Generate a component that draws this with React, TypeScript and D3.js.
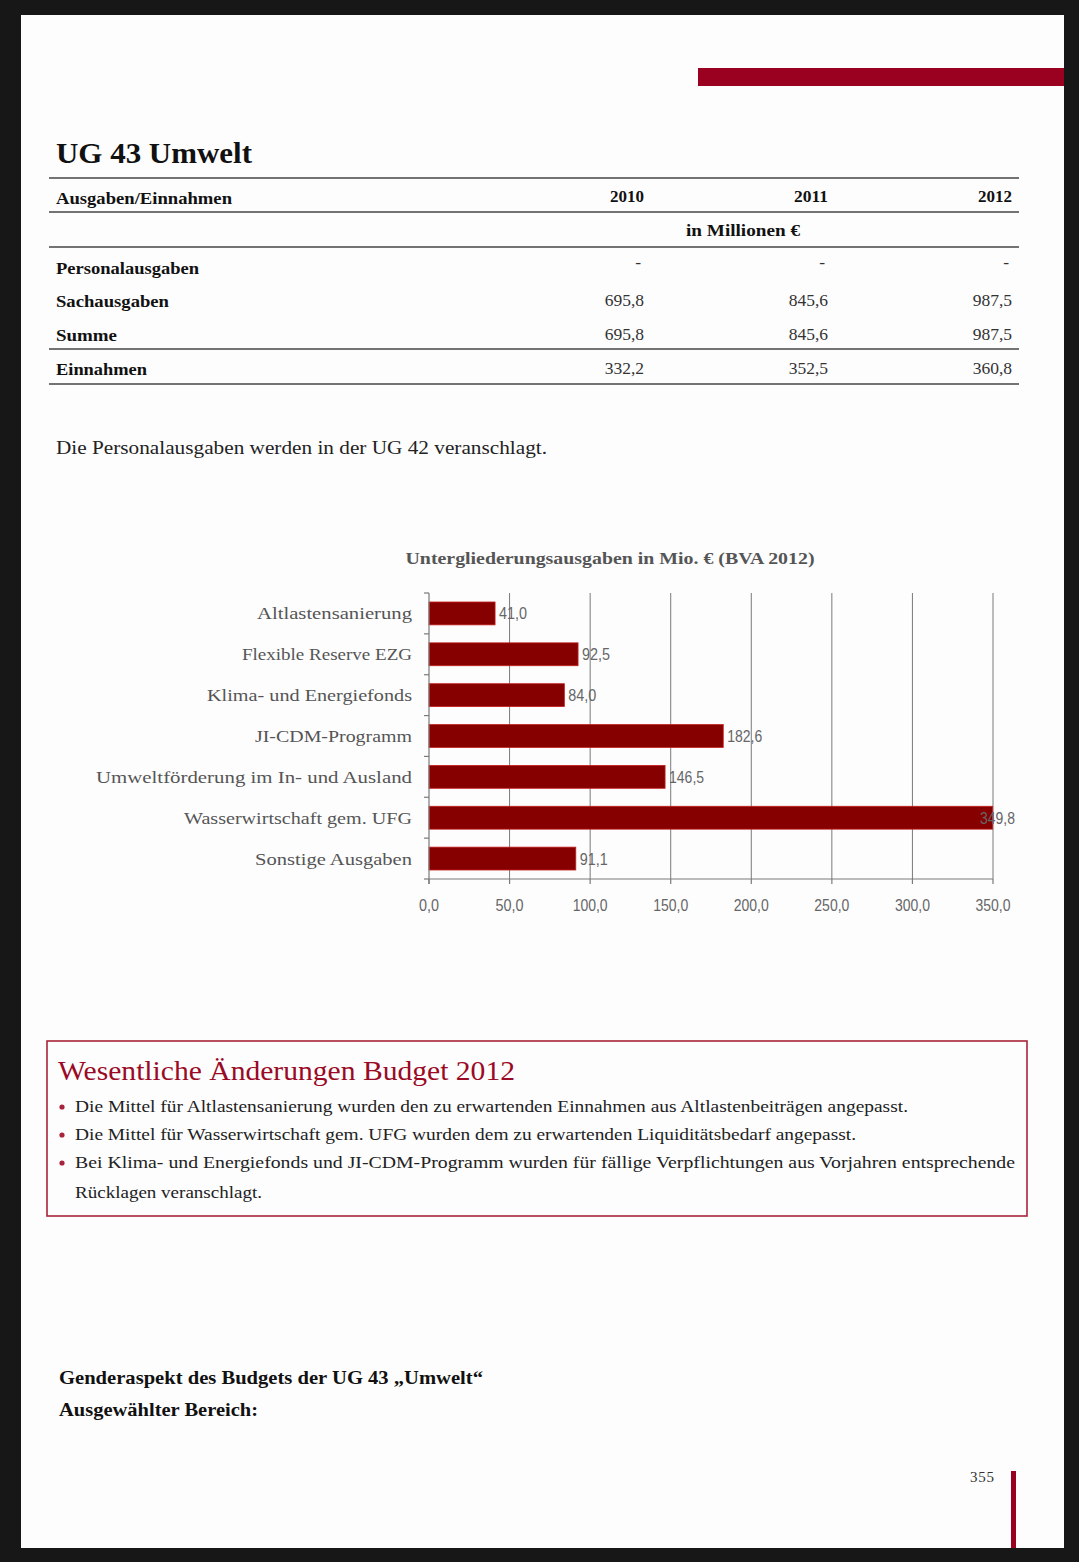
import React from "react";
import * as d3 from "d3";

const categories = [
  "Altlastensanierung",
  "Flexible Reserve EZG",
  "Klima- und Energiefonds",
  "JI-CDM-Programm",
  "Umweltförderung im In- und Ausland",
  "Wasserwirtschaft gem. UFG",
  "Sonstige Ausgaben",
];
const values = [41.0, 92.5, 84.0, 182.6, 146.5, 349.8, 91.1];
const xTicks = [0, 50, 100, 150, 200, 250, 300, 350];

const tableYears = ["2010", "2011", "2012"];
const tableRows = ["Personalausgaben", "Sachausgaben", "Summe", "Einnahmen"];
const tableValues = [
  ["-", "-", "-"],
  ["695,8", "845,6", "987,5"],
  ["695,8", "845,6", "987,5"],
  ["332,2", "352,5", "360,8"],
];

const bullets = [
  "Die Mittel für Altlastensanierung wurden den zu erwartenden Einnahmen aus Altlastenbeiträgen angepasst.",
  "Die Mittel für Wasserwirtschaft gem. UFG  wurden dem zu erwartenden Liquiditätsbedarf angepasst.",
  "Bei Klima- und Energiefonds und JI-CDM-Programm wurden für fällige Verpflichtungen aus Vorjahren entsprechende",
];
const bulletContinuation = "Rücklagen veranschlagt.";

const SERIF = "'Liberation Serif', 'DejaVu Serif', serif";
const SANS = "'Liberation Sans', Arial, sans-serif";
const fmt = (v: number) => d3.format(".1f")(v).replace(".", ",");

export default function App() {
  const W = 1079;
  const H = 1562;
  const x = d3.scaleLinear().domain([0, 350]).range([429, 993]);
  const y = d3
    .scaleBand<string>()
    .domain(categories)
    .range([593, 879])
    .paddingInner(0.44)
    .paddingOuter(0.22);
  const step = y.step();

  const colX = [644, 828, 1012];
  const rowY = [274, 307, 341, 375];
  const rowWidths = [143, 113, 61, 91];
  const catWidths = [155, 170, 205, 157, 316, 228, 157];
  const bulletWidths = [833, 781, 940];
  const bulletY = [1112, 1140, 1168];
  const labelW = (v: number) => (v >= 100 ? 35 : 28);

  return (
    <svg
      width={W}
      height={H}
      style={{ position: "absolute", left: 0, top: 0, display: "block" }}
    >
      <rect x={0} y={0} width={W} height={H} fill="#171717" />
      <rect x={21} y={15} width={1043} height={1533} fill="#fdfdfe" />
      {/* header red band */}
      <rect x={698} y={68} width={366} height={18} fill="#9a0020" />
      {/* page number bar */}
      <rect x={1011} y={1471} width={5} height={77} fill="#9a0020" />
      <text x={994} y={1482} textAnchor="end" fontFamily={SERIF} fontSize={15} fill="#333" textLength={24}>
        355
      </text>

      {/* Title */}
      <text x={56} y={163} fontFamily={SERIF} fontWeight="bold" fontSize={29} fill="#111" textLength={196} lengthAdjust="spacingAndGlyphs">
        UG 43 Umwelt
      </text>

      {/* Table */}
      <g stroke="#444" strokeWidth={1.3}>
        <line x1={49} x2={1019} y1={178} y2={178} />
        <line x1={49} x2={1019} y1={212} y2={212} />
        <line x1={49} x2={1019} y1={247} y2={247} />
        <line x1={49} x2={1019} y1={349} y2={349} />
        <line x1={49} x2={1019} y1={384} y2={384} />
      </g>
      <text x={56} y={204} fontFamily={SERIF} fontWeight="bold" fontSize={17} fill="#111" textLength={176} lengthAdjust="spacingAndGlyphs">
        Ausgaben/Einnahmen
      </text>
      {tableYears.map((yr, i) => (
        <text key={yr} x={colX[i]} y={202} textAnchor="end" fontFamily={SERIF} fontWeight="bold" fontSize={17} fill="#111" textLength={34} lengthAdjust="spacingAndGlyphs">
          {yr}
        </text>
      ))}
      <text x={743} y={236} textAnchor="middle" fontFamily={SERIF} fontWeight="bold" fontSize={17} fill="#111" textLength={114} lengthAdjust="spacingAndGlyphs">
        in Millionen €
      </text>
      {tableRows.map((r, i) => (
        <g key={r}>
          <text x={56} y={rowY[i]} fontFamily={SERIF} fontWeight="bold" fontSize={17} fill="#111" textLength={rowWidths[i]} lengthAdjust="spacingAndGlyphs">
            {r}
          </text>
          {tableValues[i].map((v, j) => (
            <text
              key={j}
              x={v === "-" ? colX[j] - 3 : colX[j]}
              y={v === "-" ? rowY[i] - 6 : rowY[i] - 1}
              textAnchor="end"
              fontFamily={SERIF}
              fontSize={17.5}
              fill="#333"
            >
              {v}
            </text>
          ))}
        </g>
      ))}

      <text x={56} y={454} fontFamily={SERIF} fontSize={19} fill="#222" textLength={491} lengthAdjust="spacingAndGlyphs">
        Die Personalausgaben werden in der UG 42 veranschlagt.
      </text>

      {/* Chart */}
      <text x={610} y={564} textAnchor="middle" fontFamily={SERIF} fontWeight="bold" fontSize={17} fill="#555" textLength={409} lengthAdjust="spacingAndGlyphs">
        Untergliederungsausgaben in Mio. € (BVA 2012)
      </text>
      <g stroke="#7a7a7a" strokeWidth={1}>
        {xTicks.slice(1).map((t) => (
          <line key={t} x1={x(t)} x2={x(t)} y1={593} y2={879} />
        ))}
      </g>
      {categories.map((c, i) => (
        <rect
          key={c}
          x={x(0)}
          y={y(c)!}
          width={x(values[i]) - x(0)}
          height={y.bandwidth()}
          fill="#860000"
          stroke="#c42020"
          strokeWidth={0.8}
        />
      ))}
      <g stroke="#7a7a7a" strokeWidth={1.2}>
        <line x1={x(0)} x2={x(0)} y1={593} y2={884} />
        <line x1={x(0)} x2={x(350)} y1={879} y2={879} />
        {d3.range(categories.length + 1).map((i) => (
          <line key={i} x1={x(0) - 5} x2={x(0)} y1={593 + i * step} y2={593 + i * step} />
        ))}
        {xTicks.map((t) => (
          <line key={t} x1={x(t)} x2={x(t)} y1={879} y2={884} />
        ))}
      </g>
      {categories.map((c, i) => (
        <text
          key={c}
          x={412}
          y={y(c)! + y.bandwidth() / 2 + 6}
          textAnchor="end"
          fontFamily={SERIF}
          fontSize={17}
          fill="#555"
          textLength={catWidths[i]}
          lengthAdjust="spacingAndGlyphs"
        >
          {c}
        </text>
      ))}
      {categories.map((c, i) => (
        <text
          key={c}
          x={Math.min(x(values[i]) + 4, 1015 - labelW(values[i]))}
          y={y(c)! + y.bandwidth() / 2 + 6}
          fontFamily={SANS}
          fontSize={16}
          fill="#666"
          textLength={labelW(values[i])}
          lengthAdjust="spacingAndGlyphs"
        >
          {fmt(values[i])}
        </text>
      ))}
      {xTicks.map((t) => (
        <text
          key={t}
          x={x(t)}
          y={911}
          textAnchor="middle"
          fontFamily={SANS}
          fontSize={16}
          fill="#666"
          textLength={t >= 100 ? 35 : t > 0 ? 28 : 20}
          lengthAdjust="spacingAndGlyphs"
        >
          {fmt(t)}
        </text>
      ))}

      {/* Box */}
      <rect x={47} y={1041} width={980} height={175} fill="none" stroke="#a8243a" strokeWidth={1.6} />
      <text x={58} y={1080} fontFamily={SERIF} fontSize={27} fill="#9a0a25" textLength={457} lengthAdjust="spacingAndGlyphs">
        Wesentliche Änderungen Budget 2012
      </text>
      {bullets.map((b, i) => (
        <g key={i}>
          <circle cx={62} cy={bulletY[i] - 5} r={2.6} fill="#a8243a" />
          <text x={75} y={bulletY[i]} fontFamily={SERIF} fontSize={17} fill="#222" textLength={bulletWidths[i]} lengthAdjust="spacingAndGlyphs">
            {b}
          </text>
        </g>
      ))}
      <text x={75} y={1198} fontFamily={SERIF} fontSize={17} fill="#222" textLength={187} lengthAdjust="spacingAndGlyphs">
        {bulletContinuation}
      </text>

      {/* Gender section */}
      <text x={59} y={1384} fontFamily={SERIF} fontWeight="bold" fontSize={19} fill="#111" textLength={424} lengthAdjust="spacingAndGlyphs">
        Genderaspekt des Budgets der UG 43 „Umwelt“
      </text>
      <text x={59} y={1416} fontFamily={SERIF} fontWeight="bold" fontSize={19} fill="#111" textLength={199} lengthAdjust="spacingAndGlyphs">
        Ausgewählter Bereich:
      </text>
    </svg>
  );
}
